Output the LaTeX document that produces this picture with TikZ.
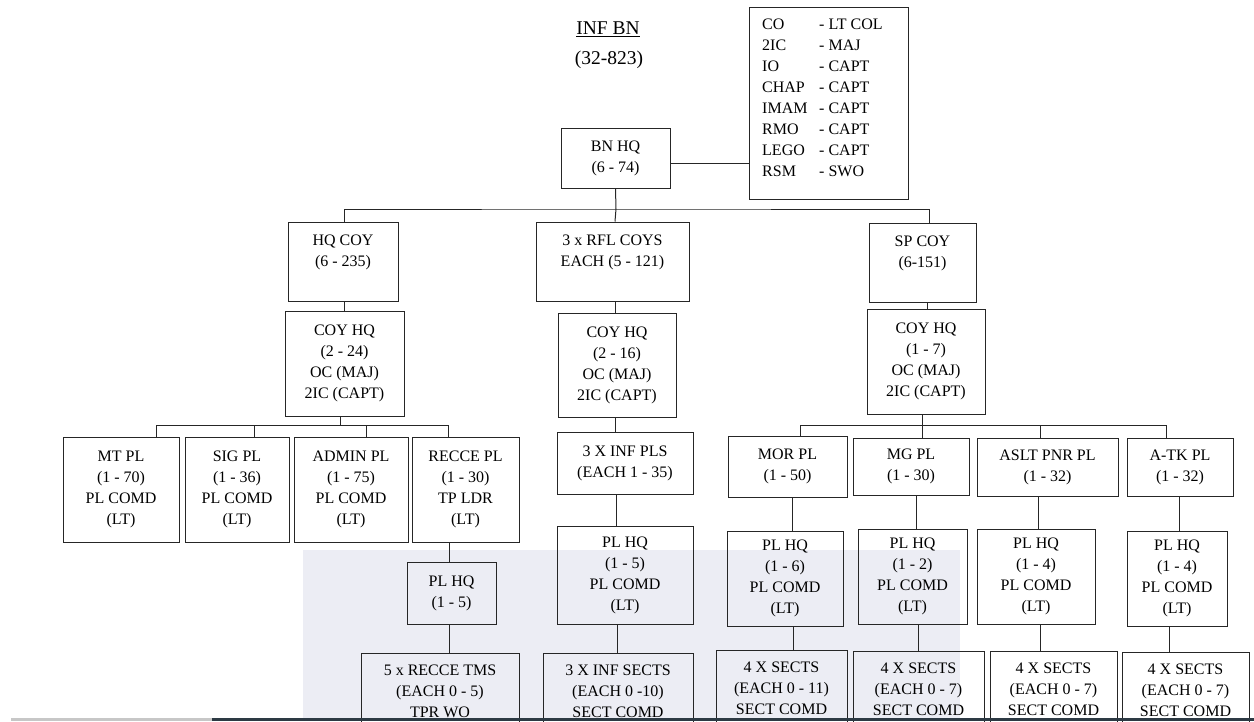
\documentclass[tikz,border=0pt]{standalone}
\usepackage{fontspec}
\setmainfont{Liberation Serif}
\usepackage{xcolor}

\definecolor{wmark}{RGB}{236,237,244}
\definecolor{edgebar}{RGB}{45,58,68}
\newcommand{\rk}[2]{\makebox[57pt][l]{#1}- #2}

\begin{document}
\begin{tikzpicture}[x=1pt, y=-1pt,
    every node/.style={font=\fontsize{16}{21}\selectfont},
    unit/.style={draw=black!85, line width=1pt, align=center, inner sep=0pt},
    ubox/.style 2 args={unit, minimum width=#1, minimum height=#2},
    link/.style={draw=black!85, line width=1pt}]
    \clip (0,0) rectangle (1254,721);

    % faint page background and page edge
    \fill[wmark] (303,550) rectangle (960,718);
    \fill[black!22] (11,718) rectangle (212,721);
    \fill[edgebar] (212,717.5) rectangle (1254,721);

    % Title
    \node[anchor=base, font=\fontsize{19.5}{23}\selectfont] (title) at (608,34.5) {\underline{INF BN}};
    \node[anchor=base, font=\fontsize{19.5}{23}\selectfont] (total) at (609,64.5) {(32-823)};

    % Battalion HQ and key appointments
    \node[ubox={109}{60}] (bnhq) at (615.5,158) {BN HQ\\(6 - 74)};
    \node[ubox={159}{192}] (ranks) at (828.5,103) {};
    \node[anchor=north west, align=left, inner sep=0pt] (ranklist) at (762,18.5)
        {\rk{CO}{LT COL}\\ \rk{2IC}{MAJ}\\ \rk{IO}{CAPT}\\ \rk{CHAP}{CAPT}\\
         \rk{IMAM}{CAPT}\\ \rk{RMO}{CAPT}\\ \rk{LEGO}{CAPT}\\ \rk{RSM}{SWO}};
    \draw[link] (bnhq.east |- 0,163) -- (ranks.west |- 0,163);

    % Companies
    \node[ubox={110}{79}] (hqcoy) at (343,261.5) {HQ COY\\(6 - 235)\\~};
    \node[ubox={153}{79}] (rflcoy) at (612.5,261.5) {3 x RFL COYS\\EACH (5 - 121)\\~};
    \node[ubox={107}{79}] (spcoy) at (922.5,262.5) {SP COY\\(6-151)\\~};
    \coordinate (bnbus) at (616,209);
    \draw[link] (bnhq.south) -- (bnbus);
    \draw[link] (344,0 |- hqcoy.north) |- (bnbus) -| (929,0 |- spcoy.north);
    \draw[link] (bnbus) -- (615,0 |- rflcoy.north);

    % Company HQs
    \node[ubox={119}{105}] (hqcoyhq) at (344.5,363.5) {COY HQ\\(2 - 24)\\OC (MAJ)\\2IC (CAPT)};
    \node[ubox={118}{104}] (rflcoyhq) at (617,365) {COY HQ\\(2 - 16)\\OC (MAJ)\\2IC (CAPT)};
    \node[ubox={118}{105}] (spcoyhq) at (926,361.5) {COY HQ\\(1 - 7)\\OC (MAJ)\\2IC (CAPT)};
    \draw[link] (344,0 |- hqcoy.south) -- (344,0 |- hqcoyhq.north);
    \draw[link] (615,0 |- rflcoy.south) -- (615,0 |- rflcoyhq.north);
    \draw[link] (927,0 |- spcoy.south) -- (927,0 |- spcoyhq.north);

    % HQ COY platoons
    \node[ubox={116}{105}] (mtpl) at (121,489.5) {MT PL\\(1 - 70)\\PL COMD\\(LT)};
    \node[ubox={104}{105}] (sigpl) at (237,489.5) {SIG PL\\(1 - 36)\\PL COMD\\(LT)};
    \node[ubox={114}{105}] (adminpl) at (351,489.5) {ADMIN PL\\(1 - 75)\\PL COMD\\(LT)};
    \node[ubox={107}{105}] (reccepl) at (465.5,489.5) {RECCE PL\\(1 - 30)\\TP LDR\\(LT)};
    \draw[link] (340,0 |- hqcoyhq.south) -- (340,425);
    \draw[link] (156,425) -- (448,425);
    \foreach \x/\n in {156/mtpl, 254/sigpl, 366/adminpl, 448/reccepl}
        \draw[link] (\x,425) -- (\x,0 |- \n.north);

    % Recce platoon
    \node[ubox={89}{62}] (reccehq) at (451.5,593) {PL HQ\\(1 - 5)};
    \node[ubox={158}{98}] (reccetms) at (440,702) {5 x RECCE TMS\\(EACH 0 - 5)\\TPR WO\\~};
    \draw[link] (449,0 |- reccepl.south) -- (449,0 |- reccehq.north);
    \draw[link] (449,0 |- reccehq.south) -- (449,0 |- reccetms.north);

    % Rifle company platoons
    \node[ubox={136}{62}] (infpls) at (625,463) {3 X INF PLS\\(EACH 1 - 35)};
    \node[ubox={136}{98}] (rflplhq) at (625,575) {PL HQ\\(1 - 5)\\PL COMD\\(LT)};
    \node[ubox={150}{98}] (infsects) at (618,702) {3 X INF SECTS\\(EACH 0 -10)\\SECT COMD\\~};
    \draw[link] (615,0 |- rflcoyhq.south) -- (615,0 |- infpls.north);
    \draw[link] (616,0 |- infpls.south) -- (616,0 |- rflplhq.north);
    \draw[link] (617,0 |- rflplhq.south) -- (617,0 |- infsects.north);

    % Support company platoons
    \node[ubox={119}{61}] (morpl) at (787.5,466.5) {MOR PL\\(1 - 50)};
    \node[ubox={116}{57}] (mgpl) at (911,466.5) {MG PL\\(1 - 30)};
    \node[ubox={141}{58}] (asltpl) at (1047.5,467) {ASLT PNR PL\\(1 - 32)};
    \node[ubox={106}{58}] (atkpl) at (1180,467) {A-TK PL\\(1 - 32)};
    \draw[link] (922,0 |- spcoyhq.south) -- (922,0 |- mgpl.north);
    \draw[link] (800,0 |- morpl.north) |- (1166,425) -- (1166,0 |- atkpl.north);
    \draw[link] (1040,425) -- (1040,0 |- asltpl.north);

    \node[ubox={116}{95}] (morhq) at (785,578.5) {PL HQ\\(1 - 6)\\PL COMD\\(LT)};
    \node[ubox={109}{95}] (mghq) at (912.5,576.5) {PL HQ\\(1 - 2)\\PL COMD\\(LT)};
    \node[ubox={118}{95}] (asltphq) at (1036,576.5) {PL HQ\\(1 - 4)\\PL COMD\\(LT)};
    \node[ubox={100}{95}] (atkhq) at (1177,578.5) {PL HQ\\(1 - 4)\\PL COMD\\(LT)};
    \draw[link] (792,0 |- morpl.south) -- (792,0 |- morhq.north);
    \draw[link] (916,0 |- mgpl.south) -- (916,0 |- mghq.north);
    \draw[link] (1038,0 |- asltpl.south) -- (1038,0 |- asltphq.north);
    \draw[link] (1179,0 |- atkpl.south) -- (1179,0 |- atkhq.north);

    \node[ubox={131}{98}] (morsects) at (781.5,699) {4 X SECTS\\(EACH 0 - 11)\\SECT COMD\\~};
    \node[ubox={131}{98}] (mgsects) at (918.5,700) {4 X SECTS\\(EACH 0 - 7)\\SECT COMD\\~};
    \node[ubox={127}{98}] (asltsects) at (1053.5,700) {4 X SECTS\\(EACH 0 - 7)\\SECT COMD\\~};
    \node[ubox={127}{98}] (atksects) at (1185.5,701) {4 X SECTS\\(EACH 0 - 7)\\SECT COMD\\~};
    \draw[link] (793,0 |- morhq.south) -- (793,0 |- morsects.north);
    \draw[link] (918,0 |- mghq.south) -- (918,0 |- mgsects.north);
    \draw[link] (1040,0 |- asltphq.south) -- (1040,0 |- asltsects.north);
    \draw[link] (1169,0 |- atkhq.south) -- (1169,0 |- atksects.north);

    % page edge over the cut boxes
    \fill[edgebar] (212,717.5) rectangle (1254,721);
\end{tikzpicture}
\end{document}
